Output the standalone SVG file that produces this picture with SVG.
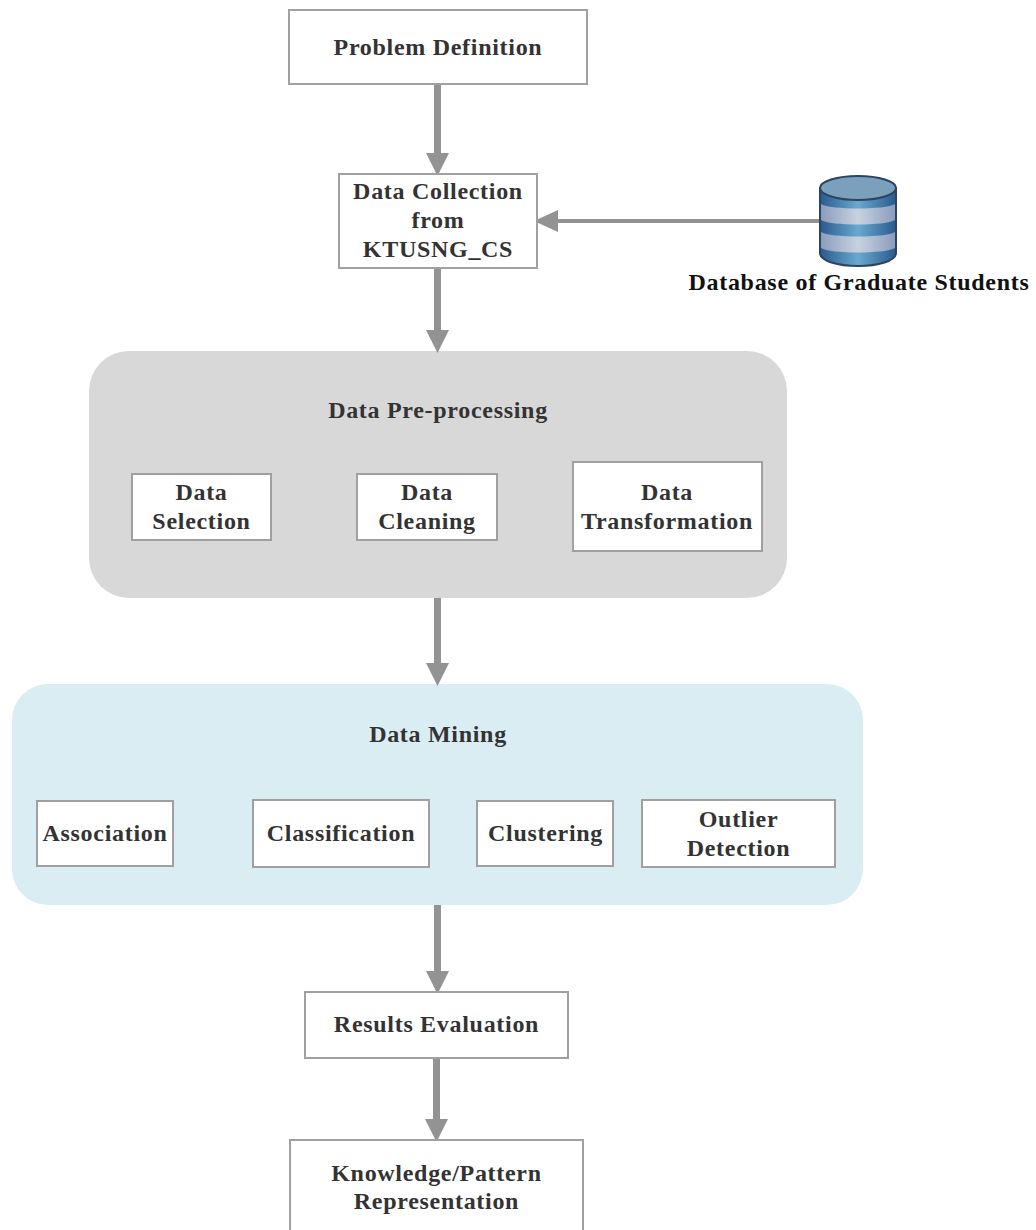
<svg xmlns="http://www.w3.org/2000/svg" width="1036" height="1230" viewBox="0 0 1036 1230">
<style>
.box{fill:#fff;stroke:#a0a0a0;stroke-width:2}
.t{font-family:"Liberation Serif","Times New Roman",serif;font-weight:700;font-size:24px;fill:#333;text-anchor:middle;letter-spacing:.7px}
.c{stroke:#939393;stroke-width:7;fill:none}
.h{fill:#939393}
</style>
<defs>
<linearGradient id="dbg" x1="0" x2="1" y1="0" y2="0"><stop offset="0" stop-color="#2a5a8e"/><stop offset=".5" stop-color="#69a9cf"/><stop offset="1" stop-color="#2a5a8e"/></linearGradient>
<linearGradient id="dbl" x1="0" x2="1" y1="0" y2="0"><stop offset="0" stop-color="#8b9dbd"/><stop offset=".5" stop-color="#c8d2e0"/><stop offset="1" stop-color="#8b9dbd"/></linearGradient>
</defs>
<rect width="1036" height="1230" fill="#fff"/>
<g id="group-preprocessing"><rect x="89" y="351" width="698" height="247" rx="40" fill="#d8d8d8"/><text class="t" x="438" y="418">Data Pre-processing</text></g>
<g id="group-mining"><rect x="12" y="684" width="851" height="221" rx="36" fill="#daedf3"/><text class="t" x="438" y="742">Data Mining</text></g>
<g id="connectors">
<path class="c" d="M437.500 84V155M437.500 268V333M437.500 598V666M437.500 905V974M436.500 1058V1122"/>
<path class="c" style="stroke-width:4" d="M558 221H820"/>
<path class="h" d="M426 153H449L437.500 176ZM426 330H449L437.500 353ZM426 663H449L437.500 686ZM426 971H449L437.500 994ZM425 1119H448L436.500 1142ZM558 210V232L534 221Z"/>
</g>
<g id="problem"><rect class="box" x="289" y="10" width="298" height="74"/><text class="t" x="438" y="55">Problem Definition</text></g>
<g id="collection"><rect class="box" x="339" y="174" width="198" height="94"/><text class="t" x="438" y="199">Data Collection</text><text class="t" x="438" y="228">from</text><text class="t" x="438" y="257">KTUSNG_CS</text></g>
<g id="database">
<path d="M820 188V253C820 261 838 266 858 266S896 261 896 253V188Z" fill="url(#dbg)" stroke="#2d4460" stroke-width="2"/>
<path d="M821 204C830 210 886 210 895 204V220C886 226 830 226 821 220Z" fill="url(#dbl)"/>
<path d="M821 232C830 238 886 238 895 232V248C886 254 830 254 821 248Z" fill="url(#dbl)"/>
<ellipse cx="858" cy="188" rx="38" ry="12" fill="#7aa0bd" stroke="#2d4460" stroke-width="2"/>
<text class="t" x="859" y="290" style="fill:#111">Database of Graduate Students</text>
</g>
<g id="selection"><rect class="box" x="132" y="474" width="139" height="66"/><text class="t" x="201.500" y="500">Data</text><text class="t" x="201.500" y="529">Selection</text></g>
<g id="cleaning"><rect class="box" x="357" y="474" width="140" height="66"/><text class="t" x="427" y="500">Data</text><text class="t" x="427" y="529">Cleaning</text></g>
<g id="transformation"><rect class="box" x="573" y="462" width="189" height="89"/><text class="t" x="667" y="500">Data</text><text class="t" x="667" y="529">Transformation</text></g>
<g id="association"><rect class="box" x="37" y="801" width="136" height="65"/><text class="t" x="105" y="841">Association</text></g>
<g id="classification"><rect class="box" x="253" y="800" width="176" height="67"/><text class="t" x="341" y="841">Classification</text></g>
<g id="clustering"><rect class="box" x="477" y="801" width="136" height="65"/><text class="t" x="545.500" y="841">Clustering</text></g>
<g id="outlier"><rect class="box" x="642" y="800" width="193" height="67"/><text class="t" x="738.500" y="827">Outlier</text><text class="t" x="738.500" y="856">Detection</text></g>
<g id="evaluation"><rect class="box" x="305" y="992" width="263" height="66"/><text class="t" x="436.500" y="1032">Results Evaluation</text></g>
<g id="knowledge"><path class="box" d="M290 1231V1140H583V1231"/><text class="t" x="436.500" y="1181">Knowledge/Pattern</text><text class="t" x="436.500" y="1209">Representation</text></g>
</svg>
